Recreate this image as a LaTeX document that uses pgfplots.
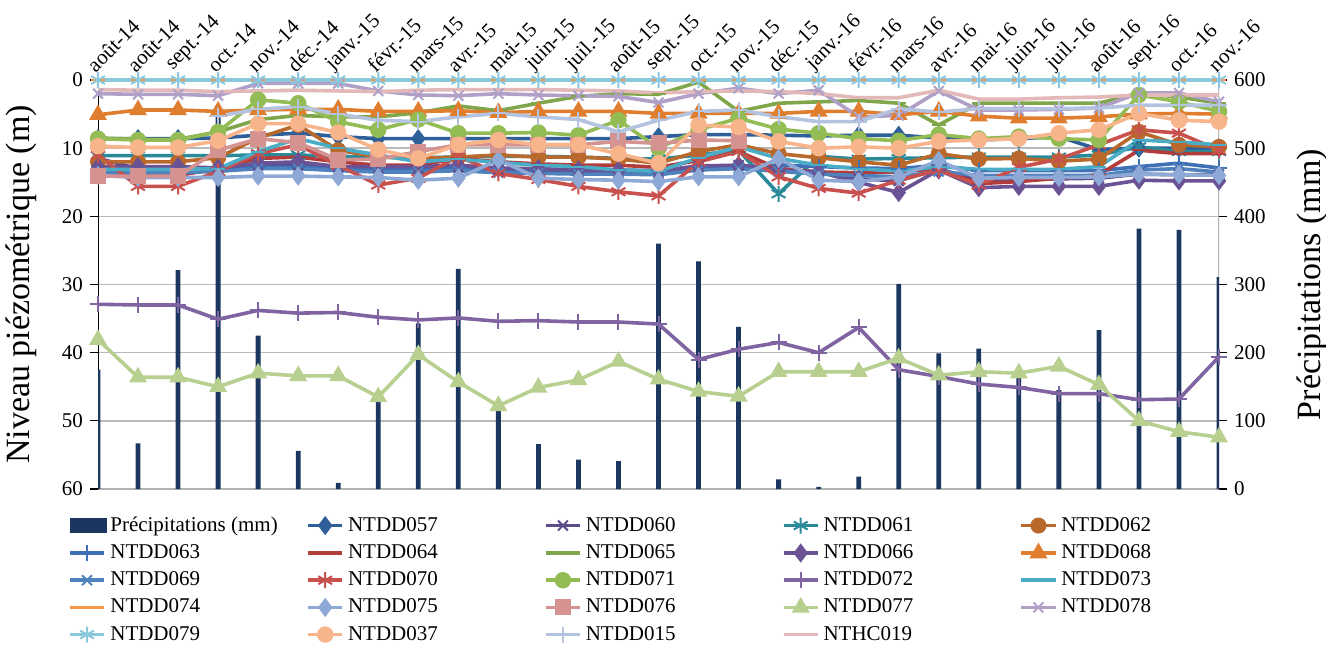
\documentclass[border=0pt]{standalone}
\usepackage{fontspec}
\setmainfont{Liberation Serif}
\usepackage{pgfplots}
\usepackage{pgfplotstable}
\pgfplotsset{compat=1.18}

\definecolor{cbar}{HTML}{1B365F}
\definecolor{c057}{HTML}{2F5F98}
\definecolor{c060}{HTML}{5E4B8B}
\definecolor{c061}{HTML}{2A8A99}
\definecolor{c062}{HTML}{B9692C}
\definecolor{c063}{HTML}{3F6FB5}
\definecolor{c064}{HTML}{B13C3A}
\definecolor{c065}{HTML}{7FA64A}
\definecolor{c066}{HTML}{6A5294}
\definecolor{c068}{HTML}{E07E30}
\definecolor{c069}{HTML}{4F81BD}
\definecolor{c070}{HTML}{C8504D}
\definecolor{c071}{HTML}{94BC54}
\definecolor{c072}{HTML}{8064A2}
\definecolor{c073}{HTML}{4BACC6}
\definecolor{c074}{HTML}{F79646}
\definecolor{c075}{HTML}{8EA9D6}
\definecolor{c076}{HTML}{D49291}
\definecolor{c077}{HTML}{B7CF8F}
\definecolor{c078}{HTML}{B0A0C8}
\definecolor{c079}{HTML}{8CC8DC}
\definecolor{c037}{HTML}{F8B48A}
\definecolor{c015}{HTML}{B4C4E0}
\definecolor{h019}{HTML}{E2B9B8}

\pgfplotstableread{
x prec a057 a060 a061 a062 a063 a064 a065 a066 a068 a069 a070 a071 a072 a073 a074 a075 a076 a077 a078 a079 a037 a015 h019
0 175 8.6 11.5 11.1 12.0 13.3 14.0 8.5 12.7 5.1 13.6 11.0 8.6 32.9 13.1 0 14.0 14.1 38.1 2.0 0 9.7 nan 1.4
1 67 8.6 13.0 11.1 12.0 13.3 14.0 8.7 12.7 4.4 13.6 15.6 8.8 33.0 13.1 0 14.3 14.1 43.6 2.1 0 9.9 nan 1.5
2 321 8.6 13.0 11.1 12.0 13.3 14.0 8.7 12.7 4.4 13.6 15.6 8.8 33.0 13.1 0 14.3 14.1 43.6 2.1 0 9.9 nan 1.5
3 546 8.5 13.0 11.1 11.4 13.0 13.0 7.6 12.9 4.6 13.4 13.4 7.6 35.1 13.0 0 14.3 10.3 45.0 2.3 0 8.9 5.3 1.7
4 225 8.1 12.5 11.0 8.5 12.8 11.5 5.8 12.2 4.4 13.0 10.8 2.9 33.8 10.5 0 14.1 8.6 43.0 0.5 0 6.4 4.3 1.6
5 56 7.8 12.5 11.0 6.6 12.8 11.3 5.2 12.0 4.3 13.0 9.5 3.4 34.2 8.6 0 14.1 9.2 43.4 0.5 0 6.4 3.9 1.5
6 9 8.3 12.8 11.2 10.3 12.9 12.0 5.4 12.7 4.3 13.3 12.5 6.1 34.1 10.0 0 14.2 11.7 43.4 0.5 0 7.7 5.0 1.6
7 130 8.6 12.9 11.3 11.3 13.0 12.5 5.4 12.7 4.6 13.5 15.4 7.3 34.8 11.0 0 14.3 11.6 46.5 1.6 0 10.2 5.9 1.7
8 243 8.6 13.0 11.4 11.5 13.0 12.5 4.8 12.7 4.6 13.5 14.4 5.8 35.2 12.0 0 14.7 10.5 40.3 2.2 0 11.5 6.1 1.5
9 323 8.6 12.8 11.3 11.3 12.8 11.5 3.8 12.5 4.5 13.3 11.2 7.8 34.9 11.6 0 14.4 9.5 44.3 2.3 0 9.5 5.4 1.4
10 120 8.6 13.2 11.2 11.0 13.0 12.0 4.5 12.9 4.8 13.6 13.7 7.8 35.4 12.1 0 11.7 9.5 47.8 2.0 0 8.8 4.9 1.4
11 66 8.6 13.3 11.2 11.3 13.1 12.3 3.4 13.0 4.6 13.7 14.6 7.7 35.3 12.5 0 14.4 9.5 45.1 2.2 0 9.5 5.4 1.4
12 43 8.6 13.5 11.3 11.3 13.2 12.5 2.4 13.2 4.6 13.8 15.6 8.1 35.5 12.7 0 14.6 9.5 44.0 2.3 0 9.5 5.8 1.5
13 41 8.6 13.6 11.5 11.6 13.2 12.5 2.0 13.3 4.6 13.8 16.4 5.9 35.5 13.2 0 14.7 9.0 41.3 2.4 0 10.8 7.6 1.6
14 360 8.3 13.6 11.6 12.2 13.3 12.8 2.1 13.3 4.9 13.9 17.0 10.0 35.8 13.4 0 14.9 9.3 43.9 3.3 0 12.2 5.9 1.9
15 334 8.0 12.8 11.0 10.5 12.8 11.8 0.3 12.6 4.9 13.2 12.0 7.3 41.0 11.4 0 14.2 8.8 45.7 2.0 0 6.6 4.6 1.7
16 238 8.0 12.5 10.3 9.5 12.8 10.5 4.6 12.5 4.9 13.0 10.5 5.6 39.5 9.8 0 14.2 8.9 46.4 1.2 0 6.9 4.4 1.6
17 14 8.1 13.0 16.7 10.8 12.5 13.0 3.4 13.2 4.9 13.4 14.2 7.2 38.5 11.5 0 11.5 nan 42.8 2.0 0 9.0 5.4 1.7
18 3 8.2 13.5 11.2 11.4 12.7 13.5 3.2 13.5 4.6 13.8 15.9 7.8 40.0 12.5 0 14.7 nan 42.8 1.5 0 10.0 6.1 2.0
19 18 8.1 14.5 11.6 12.0 12.9 13.6 3.0 15.0 4.6 14.0 16.6 8.6 36.3 13.0 0 14.9 nan 42.8 5.4 0 9.8 6.1 2.6
20 301 8.1 14.8 11.5 12.5 13.0 13.5 3.4 16.5 5.1 14.2 14.7 8.9 42.5 13.4 0 14.2 nan 40.8 5.2 0 10.0 4.2 2.6
21 199 8.5 13.0 11.4 10.8 12.5 13.0 6.6 13.2 4.6 13.4 13.2 8.0 43.5 12.7 0 11.8 nan 43.3 1.6 0 9.0 4.7 1.5
22 206 8.8 14.8 11.3 11.6 13.3 15.2 3.4 15.8 5.3 14.0 15.4 8.6 44.6 13.1 0 14.4 nan 42.8 4.4 0 8.8 4.2 2.8
23 170 8.6 14.6 11.3 11.5 13.3 14.9 3.4 15.6 5.6 14.0 12.8 8.3 45.1 13.1 0 14.3 nan 43.0 4.4 0 8.6 4.2 2.8
24 145 8.3 14.5 11.3 11.9 13.3 14.4 3.4 15.6 5.6 14.0 11.6 8.6 46.0 13.1 0 14.3 nan 42.0 4.3 0 7.8 4.2 2.6
25 233 10.2 14.4 11.0 11.6 13.3 13.9 3.4 15.6 5.4 14.0 9.5 8.8 46.0 12.7 0 14.2 nan 44.7 4.1 0 7.3 4.1 2.5
26 382 10.0 13.8 9.8 7.6 12.7 10.3 1.9 14.7 5.0 13.2 7.3 2.2 46.9 8.8 0 13.8 nan 50.0 1.9 0 4.9 3.7 2.2
27 380 10.0 13.9 10.5 9.5 12.2 10.8 2.5 14.8 4.9 13.0 7.8 3.2 46.8 9.1 0 13.9 nan 51.6 1.9 0 5.9 3.7 2.2
28 311 10.0 13.9 10.5 9.8 12.9 10.8 3.4 14.8 5.0 13.5 10.3 4.6 40.6 9.5 0 14.0 nan 52.4 3.2 0 6.1 3.7 2.2
}\data

\newcommand{\lgd}[1]{\makebox[96pt][l]{#1}}
% #1 column, #2 colour, #3 mark, #4 mark size, #5 legend text
\newcommand{\ser}[5]{%
  \addplot[color=#2, line width=1.8pt, mark=#3, mark size=#4,
    mark options={solid, fill=#2, draw=#2, line width=1pt}]
    table[x=x, y=#1] {\data};
  \addlegendentry{\lgd{#5}}}

\begin{document}
\begin{tikzpicture}
\pgfplotsset{
  every axis/.append style={
    scale only axis, width=560.5pt, height=204.5pt,
    xmin=0, xmax=28,
    tick label style={font=\fontsize{10.5}{12}\selectfont},
    /pgf/number format/assume math mode=true,
    axis line style={draw=none},
    tick align=outside, major tick length=4pt,
    tick style={black, line width=0.6pt},
  }
}
% ---- precipitation bars, right axis
\begin{axis}[
  ymin=0, ymax=600,
  xtick=\empty,
  ytick={0,100,...,600},
  ytick pos=right, yticklabel pos=right,
  ymajorgrids, grid style={gray!55, line width=0.7pt},
  ylabel={Précipitations (mm)},
  every axis y label/.style={at={(axis description cs:1.083,0.5)}, rotate=90, anchor=center, font=\fontsize{17}{19}\selectfont},
]
\draw[gray!60, line width=0.8pt] (rel axis cs:0,0) -- (rel axis cs:1,0);
\draw[gray!60, line width=0.8pt] (rel axis cs:1,0) -- (rel axis cs:1,1);
\draw[black, line width=0.8pt] (rel axis cs:0,1) -- (rel axis cs:1,1);
\draw[black, line width=0.8pt] (rel axis cs:0,0) -- (rel axis cs:0,1);
\addplot[ybar, bar width=2.4pt, fill=cbar, draw=none] table[x=x, y=prec] {\data};
\end{axis}
% ---- piezometric levels, left axis reversed
\begin{axis}[
  ymin=0, ymax=60, y dir=reverse,
  clip=false,
  xtick={0,...,28},
  xticklabels={août-14,août-14,sept.-14,oct.-14,nov.-14,déc.-14,janv.-15,févr.-15,mars-15,avr.-15,mai-15,juin-15,juil.-15,août-15,sept.-15,oct.-15,nov.-15,déc.-15,janv.-16,févr.-16,mars-16,avr.-16,mai-16,juin-16,juil.-16,août-16,sept.-16,oct.-16,nov.-16},
  xtick pos=upper, xticklabel pos=upper,
  xticklabel style={rotate=45, anchor=south west, inner sep=0pt, xshift=-1.5pt, yshift=0pt},
  ytick={0,10,...,60}, ytick pos=left, yticklabel pos=left,
  ylabel={Niveau piézométrique (m)},
  every axis y label/.style={at={(axis description cs:-0.068,0.5)}, rotate=90, anchor=center, font=\fontsize{17}{19}\selectfont},
  legend style={at={(-0.027,-0.062)}, anchor=north west, draw=none, fill=none,
    inner sep=0pt, font=\fontsize{10.5}{12}\selectfont,
    nodes={inner xsep=2pt, inner ysep=1pt}, row sep=3.1pt},
  legend columns=5, legend cell align=left,
]
\addlegendimage{legend image code/.code={\fill[cbar] (0pt,-3.5pt) rectangle (18pt,3.5pt);}}
\addlegendentry{\lgd{Précipitations (mm)}}
\ser{a057}{c057}{diamond*}{4pt}{NTDD057}
\ser{a060}{c060}{x}{3.5pt}{NTDD060}
\ser{a061}{c061}{asterisk}{4pt}{NTDD061}
\ser{a062}{c062}{*}{3.5pt}{NTDD062}
\ser{a063}{c063}{+}{4pt}{NTDD063}
\ser{a064}{c064}{-}{3.5pt}{NTDD064}
\ser{a065}{c065}{-}{3.5pt}{NTDD065}
\ser{a066}{c066}{diamond*}{4pt}{NTDD066}
\ser{a068}{c068}{triangle*}{4.2pt}{NTDD068}
\ser{a069}{c069}{x}{3.5pt}{NTDD069}
\ser{a070}{c070}{asterisk}{4pt}{NTDD070}
\ser{a071}{c071}{*}{3.6pt}{NTDD071}
\ser{a072}{c072}{+}{4pt}{NTDD072}
\ser{a073}{c073}{-}{3.5pt}{NTDD073}
\ser{a074}{c074}{-}{3.5pt}{NTDD074}
\ser{a075}{c075}{diamond*}{4pt}{NTDD075}
\ser{a076}{c076}{square*}{3.5pt}{NTDD076}
\ser{a077}{c077}{triangle*}{4.2pt}{NTDD077}
\ser{a078}{c078}{x}{3.5pt}{NTDD078}
\ser{a079}{c079}{asterisk}{4pt}{NTDD079}
\ser{a037}{c037}{*}{3.6pt}{NTDD037}
\ser{a015}{c015}{+}{4pt}{NTDD015}
\addplot[color=h019, line width=1.8pt, mark=none] table[x=x, y=h019] {\data};
\addlegendentry{\lgd{NTHC019}}
\end{axis}
\pgfresetboundingbox
\path[use as bounding box] (-49pt,-77.5pt) rectangle (614pt,244.5pt);
\end{tikzpicture}
\end{document}
